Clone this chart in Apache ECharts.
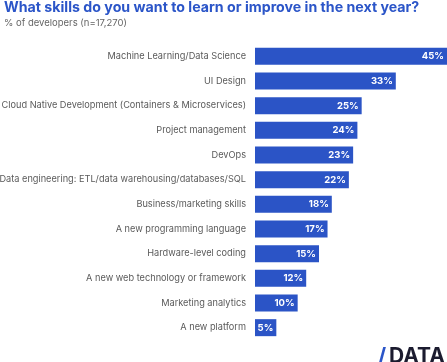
<!DOCTYPE html>
<html><head><meta charset="utf-8">
<script src="https://cdn.jsdelivr.net/npm/echarts@6/dist/echarts.min.js"></script>
<style>html,body{margin:0;padding:0;background:#fff}#c{width:447px;height:362px}</style>
</head><body><div id="c"></div>
<script>
const categories = [
  "Machine Learning/Data Science",
  "UI Design",
  "Cloud Native Development (Containers & Microservices)",
  "Project management",
  "DevOps",
  "Data engineering: ETL/data warehousing/databases/SQL",
  "Business/marketing skills",
  "A new programming language",
  "Hardware-level coding",
  "A new web technology or framework",
  "Marketing analytics",
  "A new platform"
];
const values = [45, 33, 25, 24, 23, 22, 18, 17, 15, 12, 10, 5];
const titleText = "What skills do you want to learn or improve in the next year?";
const subtitleText = "% of developers (n=17,270)";

const chart = echarts.init(document.getElementById('c'));
chart.setOption({
  animation: false,
  title: {
    text: titleText, subtext: subtitleText, left: -1, top: -4, itemGap: 3,
    textStyle: {fontFamily: 'Inter', fontWeight: 'bold', fontSize: 14.2, color: '#2b55c8'},
    subtextStyle: {fontFamily: 'Inter', fontSize: 9.5, color: '#666'}
  },
  grid: {left: 255, right: 0, top: 44, bottom: 22, containLabel: false, outerBoundsMode: 'none'},
  xAxis: {type: 'value', min: 0, max: 45, show: false},
  yAxis: {
    type: 'category', data: categories, inverse: true,
    axisLine: {show: false}, axisTick: {show: false},
    axisLabel: {margin: 9, fontFamily: 'Inter', fontSize: 9.2, color: '#5a5a5a'}
  },
  series: [{
    type: 'bar', data: values, barWidth: 17,
    itemStyle: {color: '#2b54c6'},
    label: {show: true, position: 'insideRight', offset: [2, 0], formatter: '{c}%',
      color: '#fff', fontWeight: 'bold', fontFamily: 'Inter', fontSize: 9.5}
  }],
  graphic: [
    {type: 'text', left: 378, top: 346, style: {text: '/', fontSize: 21, fontWeight: 'bold', fontFamily: 'Inter', fill: '#2b55c8'}},
    {type: 'text', left: 389, top: 346, style: {text: 'DATA', fontSize: 21, fontWeight: 'bold', fontFamily: 'Inter', fill: '#1b1b2f'}}
  ]
});
</script></body></html>
